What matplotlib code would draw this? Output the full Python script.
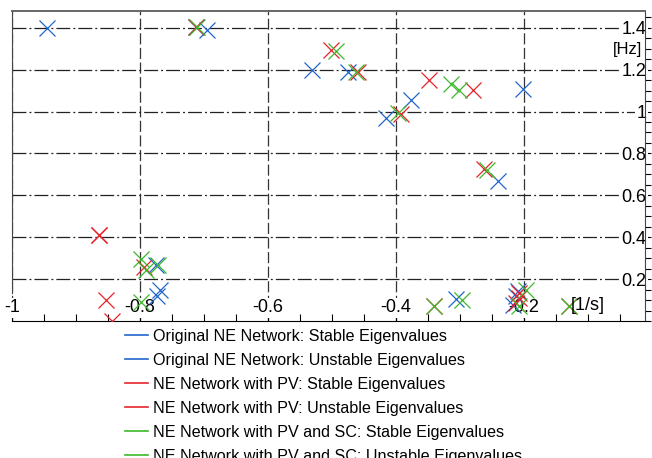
import matplotlib
matplotlib.use('Agg')
import matplotlib.pyplot as plt
from matplotlib.ticker import MultipleLocator, FuncFormatter

plt.rcParams['font.family'] = ['Liberation Sans', 'DejaVu Sans']
plt.rcParams['lines.scale_dashes'] = False

orig_stable_re = [-0.946, -0.713, -0.696, -0.531, -0.475, -0.415, -0.376, -0.2016, -0.241,
                  -0.775, -0.769, -0.774, -0.306, -0.217, -0.212, -0.209]
orig_stable_im = [1.40, 1.405, 1.39, 1.197, 1.19, 0.971, 1.057, 1.11, 0.670,
                  0.268, 0.149, 0.117, 0.105, 0.078, 0.117, 0.141]
orig_unstable_re = []
orig_unstable_im = []

pv_stable_re = [-0.713, -0.501, -0.460, -0.392, -0.348, -0.279, -0.263, -0.793, -0.853,
                -0.844, -0.212, -0.2075, -0.208, -0.340, -0.130]
pv_stable_im = [1.405, 1.295, 1.19, 0.987, 1.149, 1.101, 0.724, 0.26, 0.101,
                0.0, 0.086, 0.11, 0.133, 0.073, 0.07]
pv_unstable_re = [-0.864, -0.864]
pv_unstable_im = [0.411, 0.411]

sc_stable_re = [-0.711, -0.494, -0.462, -0.397, -0.314, -0.302, -0.258, -0.798, -0.79,
                -0.772, -0.799, -0.340, -0.297, -0.197, -0.2075, -0.130]
sc_stable_im = [1.405, 1.289, 1.19, 0.993, 1.133, 1.101, 0.72, 0.295, 0.244,
                0.268, 0.093, 0.073, 0.101, 0.149, 0.07, 0.07]
sc_unstable_re = []
sc_unstable_im = []

labels = ['Original NE Network: Stable Eigenvalues',
          'Original NE Network: Unstable Eigenvalues',
          'NE Network with PV: Stable Eigenvalues',
          'NE Network with PV: Unstable Eigenvalues',
          'NE Network with PV and SC: Stable Eigenvalues',
          'NE Network with PV and SC: Unstable Eigenvalues']

x_major = [-1, -0.8, -0.6, -0.4, -0.2]
y_major = [0.2, 0.4, 0.6, 0.8, 1.0, 1.2, 1.4]

blue = '#2266cc'
red = '#e8222c'
green = '#3cb82a'

fig = plt.figure(figsize=(6.52, 4.58), dpi=100)
ax = fig.add_axes([12 / 652, 1 - 321 / 458, 633 / 652, 310 / 458])

series = [(orig_stable_re, orig_stable_im, blue),
          (orig_unstable_re, orig_unstable_im, blue),
          (pv_stable_re, pv_stable_im, red),
          (pv_unstable_re, pv_unstable_im, red),
          (sc_stable_re, sc_stable_im, green),
          (sc_unstable_re, sc_unstable_im, green)]
handles = []
for (xs, ys, c), lab in zip(series, labels):
    ax.plot(xs, ys, linestyle='none', marker='x', color=c, markersize=11,
            markeredgewidth=0.9, zorder=3)
    h, = ax.plot([], [], color=c, linewidth=1.2)
    handles.append(h)

ax.set_xlim(-1, -0.011)
ax.set_ylim(0, 1.48)

ax.set_xticks(x_major)
ax.xaxis.set_minor_locator(MultipleLocator(0.05))
ax.xaxis.set_major_formatter(FuncFormatter(lambda v, p: f'{v:g}'))
ax.tick_params(axis='x', which='both', direction='in', length=5, width=0.8,
               labelsize=13, pad=-15.5, top=False)

ax.yaxis.tick_right()
ax.set_yticks(y_major)
ax.yaxis.set_minor_locator(MultipleLocator(0.05))
ax.yaxis.set_major_formatter(FuncFormatter(lambda v, p: f'{v:g}'))
ax.tick_params(axis='y', which='both', direction='out', length=4, width=0.8,
               labelsize=13, pad=-3)
for lbl in ax.get_yticklabels():
    lbl.set_ha('right')
    lbl.set_bbox(dict(facecolor='white', edgecolor='none', pad=1))
for lbl in ax.get_xticklabels():
    lbl.set_bbox(dict(facecolor='white', edgecolor='none', pad=1))

ax.xaxis.grid(True, color='#333333', linewidth=0.9, linestyle=(0, (8, 2.5)))
ax.yaxis.grid(True, color='#222222', linewidth=0.9, linestyle=(0, (10, 2.2, 1.4, 2.2)))

ax.spines['top'].set_color('#666666')
ax.spines['top'].set_linewidth(1.4)
ax.spines['left'].set_color('#444444')
ax.spines['left'].set_bounds(0.135, 1.48)
ax.spines['bottom'].set_color('black')
ax.spines['right'].set_color('#444444')

ax.text(0.9716, 0.875, '[Hz]', transform=ax.transAxes, ha='center', va='center', fontsize=12)
ax.text(0.91, 0.0516, '[1/s]', transform=ax.transAxes, ha='center', va='center', fontsize=13)

fig.legend(handles, labels, loc='upper left', bbox_to_anchor=(125 / 652, 1 - 329 / 458),
           frameon=False, fontsize=11.6, handlelength=1.45, handletextpad=0.3,
           labelspacing=0.56, borderpad=0, borderaxespad=0)

fig.savefig('out.png', dpi=100)
